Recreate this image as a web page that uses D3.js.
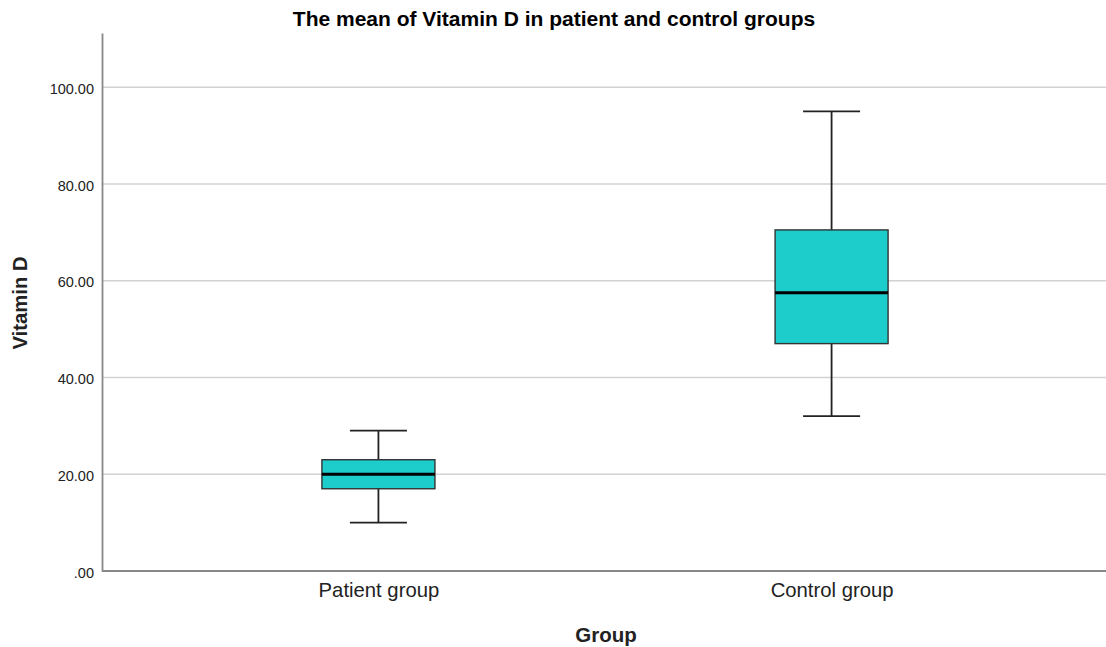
<!DOCTYPE html>
<html><head><meta charset="utf-8">
<script src="https://cdn.jsdelivr.net/npm/d3@7"></script>
<style>body{margin:0;background:#fff}svg{display:block}</style>
</head><body>
<script>
const categories = ["Patient group", "Control group"];
const whiskerLow = [10, 32];
const q1 = [17, 47];
const median = [20, 57.5];
const q3 = [23, 70.5];
const whiskerHigh = [29, 95];
const yTicks = [0, 20, 40, 60, 80, 100];

const W = 1106, H = 647;
const FONT = "Liberation Sans, Arial, sans-serif";
const svg = d3.select("body").append("svg").attr("width", W).attr("height", H);
const x = d3.scalePoint().domain(categories).range([102, 1108]).padding(0.61);
const y = d3.scaleLinear().domain([0, 111.2]).range([571, 33]);
const boxW = 113, capW = 57;

// gridlines
svg.append("g").selectAll("line").data(yTicks.filter(d => d > 0)).join("line")
  .attr("x1", 102).attr("x2", W).attr("y1", d => y(d)).attr("y2", d => y(d))
  .attr("stroke", "#d2d2d2").attr("stroke-width", 1.6);

// y axis
const yAxis = svg.append("g").attr("transform", "translate(102,0)")
  .call(d3.axisLeft(y).tickValues(yTicks).tickSize(0).tickPadding(8)
    .tickFormat(d => d === 0 ? ".00" : d3.format(".2f")(d)));
yAxis.select(".domain").attr("stroke", "#888").attr("stroke-width", 1.8);
yAxis.selectAll("text").attr("font-family", FONT).attr("font-size", 14.5).attr("fill", "#222").attr("dy", "0.42em");

// x axis
const xAxis = svg.append("g").attr("transform", "translate(0,571)")
  .call(d3.axisBottom(x).tickSize(0).tickPadding(12));
xAxis.select(".domain").attr("d", `M102,0H${W}`).attr("stroke", "#888").attr("stroke-width", 1.8);
xAxis.selectAll("text").attr("font-family", FONT).attr("font-size", 20.3).attr("fill", "#222");

// boxes
const g = svg.append("g").selectAll("g").data(categories).join("g");
g.append("line").attr("x1", d => x(d)).attr("x2", d => x(d))
  .attr("y1", (d, i) => y(whiskerHigh[i])).attr("y2", (d, i) => y(whiskerLow[i]))
  .attr("stroke", "#222").attr("stroke-width", 1.8);
g.append("line").attr("x1", d => x(d) - capW / 2).attr("x2", d => x(d) + capW / 2)
  .attr("y1", (d, i) => y(whiskerHigh[i])).attr("y2", (d, i) => y(whiskerHigh[i]))
  .attr("stroke", "#222").attr("stroke-width", 1.8);
g.append("line").attr("x1", d => x(d) - capW / 2).attr("x2", d => x(d) + capW / 2)
  .attr("y1", (d, i) => y(whiskerLow[i])).attr("y2", (d, i) => y(whiskerLow[i]))
  .attr("stroke", "#222").attr("stroke-width", 1.8);
g.append("rect").attr("x", d => x(d) - boxW / 2).attr("width", boxW)
  .attr("y", (d, i) => y(q3[i])).attr("height", (d, i) => y(q1[i]) - y(q3[i]))
  .attr("fill", "#1ccdcb").attr("stroke", "#333").attr("stroke-width", 1.4);
g.append("line").attr("x1", d => x(d) - boxW / 2).attr("x2", d => x(d) + boxW / 2)
  .attr("y1", (d, i) => y(median[i])).attr("y2", (d, i) => y(median[i]))
  .attr("stroke", "#000").attr("stroke-width", 3);

// titles
svg.append("text").attr("x", 554).attr("y", 26).attr("text-anchor", "middle")
  .attr("font-family", FONT).attr("font-weight", "bold")
  .attr("font-size", 21).attr("fill", "#000").text("The mean of Vitamin D in patient and control groups");
svg.append("text").attr("x", 606).attr("y", 642).attr("text-anchor", "middle")
  .attr("font-family", FONT).attr("font-weight", "bold")
  .attr("font-size", 20.5).attr("fill", "#222").text("Group");
svg.append("text").attr("transform", "translate(27,303) rotate(-90)").attr("text-anchor", "middle")
  .attr("font-family", FONT).attr("font-weight", "bold")
  .attr("font-size", 20.3).attr("fill", "#222").text("Vitamin D");
</script>
</body></html>
